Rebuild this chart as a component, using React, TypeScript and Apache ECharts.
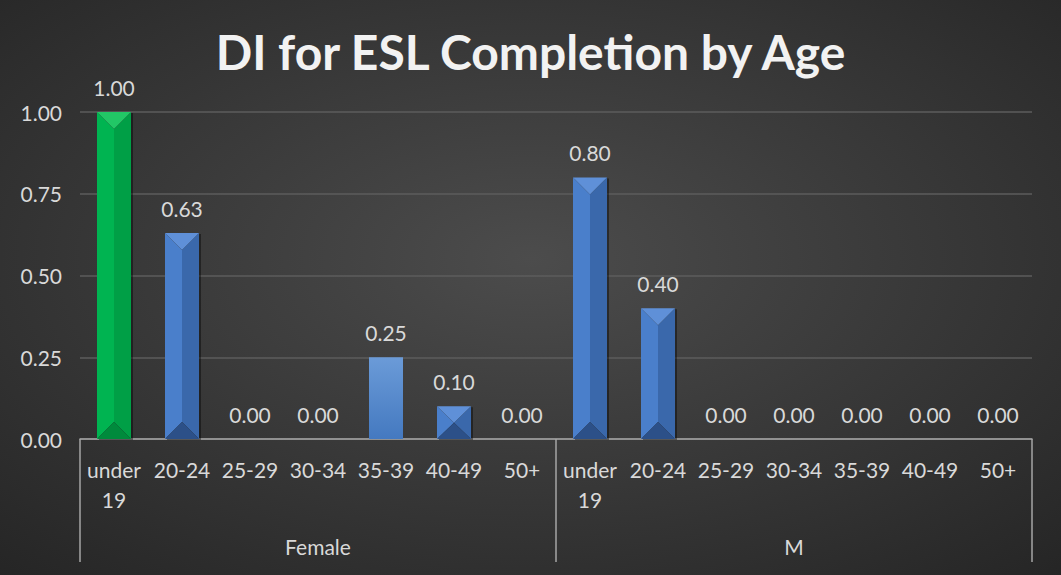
import React, { useEffect, useRef } from "react";
import * as echarts from "echarts";

const title = "DI for ESL Completion by Age";
const groups = ["Female", "M"];
const ageBands = ["under\n19", "20-24", "25-29", "30-34", "35-39", "40-49", "50+"];
const femaleValues = [1.0, 0.63, 0.0, 0.0, 0.25, 0.1, 0.0];
const maleValues = [0.8, 0.4, 0.0, 0.0, 0.0, 0.0, 0.0];
const yTicks = [0, 0.25, 0.5, 0.75, 1.0];

// visual style per bar (same order as categories)
const barKinds = [
  "green", "blue", "blue", "blue", "flat", "blue", "blue",
  "blue", "blue", "blue", "blue", "blue", "blue", "blue",
];

const palettes: Record<string, { top: string; left: string; right: string; bottom: string }> = {
  green: { top: "#22c766", left: "#00b451", right: "#009f46", bottom: "#008a3c" },
  blue: { top: "#5f90d8", left: "#4a7fcb", right: "#3a68ab", bottom: "#2c5088" },
};

export default function App() {
  const ref = useRef<HTMLDivElement>(null);
  useEffect(() => {
    if (!ref.current) return;
    const chart = echarts.init(ref.current, undefined, { renderer: "svg" });
    const categories = [...ageBands, ...ageBands];
    const values = [...femaleValues, ...maleValues];
    const customData = values.map((v, i) => [i, v]);
    const textColor = "#d9d9d9";
    const font = "Lato, 'Open Sans', sans-serif";

    chart.setOption({
      animation: false,
      backgroundColor: {
        type: "radial",
        x: 0.5,
        y: 0.45,
        r: 0.75,
        colorStops: [
          { offset: 0, color: "#4c4c4c" },
          { offset: 1, color: "#252525" },
        ],
      },
      title: {
        text: title,
        left: "center",
        top: 22,
        textStyle: { color: "#f2f2f2", fontSize: 48, fontWeight: "bold", fontFamily: font },
      },
      grid: { left: 80, right: 29, top: 112, bottom: 136, containLabel: false },
      xAxis: [
        {
          type: "category",
          data: categories,
          position: "bottom",
          axisLine: { show: true, lineStyle: { color: "#a6a6a6", width: 1.5 } },
          axisTick: { show: false },
          axisLabel: {
            interval: 0,
            color: textColor,
            fontSize: 21,
            fontFamily: font,
            margin: 15,
            lineHeight: 30,
          },
        },
        {
          type: "category",
          data: groups,
          position: "bottom",
          offset: 0,
          axisLine: { show: false },
          axisTick: { show: true, length: 123, interval: 0, lineStyle: { color: "#a6a6a6", width: 1.5 } },
          axisLabel: { color: textColor, fontSize: 21, fontFamily: font, margin: 97 },
        },
      ],
      yAxis: {
        type: "value",
        min: yTicks[0],
        max: yTicks[yTicks.length - 1],
        interval: 0.25,
        axisLine: { show: false },
        axisTick: { show: false },
        splitLine: { lineStyle: { color: "#5c5c5c", width: 1.5 } },
        axisLabel: {
          color: textColor,
          fontSize: 21,
          fontFamily: font,
          margin: 18,
          formatter: (v: number) => v.toFixed(2),
        },
      },
      series: [
        {
          type: "custom",
          xAxisIndex: 0,
          data: customData,
          encode: { x: 0, y: 1 },
          renderItem: (params: any, api: any) => {
            const idx = api.value(0) as number;
            const val = api.value(1) as number;
            if (!val) return { type: "group", children: [] };
            const top = api.coord([idx, val]);
            const base = api.coord([idx, 0]);
            const bw = api.size([1, 0])[0] * 0.5;
            const xc = top[0];
            const x0 = xc - bw / 2;
            const x1 = xc + bw / 2;
            const y0 = top[1];
            const y1 = base[1];
            const h = y1 - y0;
            const kind = barKinds[idx];
            if (kind === "flat") {
              return {
                type: "rect",
                shape: { x: x0, y: y0, width: bw, height: h },
                style: {
                  fill: {
                    type: "linear", x: 0, y: 0, x2: 0, y2: 1,
                    colorStops: [
                      { offset: 0, color: "#6b9bd8" },
                      { offset: 1, color: "#4479c0" },
                    ],
                  },
                },
              };
            }
            const p = palettes[kind];
            const b = Math.min(bw / 2, h / 2);
            const ya = y0 + b;
            const yb = y1 - b;
            return {
              type: "group",
              children: [
                {
                  type: "rect",
                  shape: { x: x0 + 2, y: y0 + 1, width: bw, height: h },
                  style: { fill: "rgba(0,0,0,0.4)" },
                },
                {
                  type: "polygon",
                  shape: { points: [[x0, y0], [xc, ya], [xc, yb], [x0, y1]] },
                  style: { fill: p.left },
                },
                {
                  type: "polygon",
                  shape: { points: [[x1, y0], [xc, ya], [xc, yb], [x1, y1]] },
                  style: { fill: p.right },
                },
                {
                  type: "polygon",
                  shape: { points: [[x0, y0], [x1, y0], [xc, ya]] },
                  style: { fill: p.top },
                },
                {
                  type: "polygon",
                  shape: { points: [[x0, y1], [x1, y1], [xc, yb]] },
                  style: { fill: p.bottom },
                },
              ],
            };
          },
          z: 3,
        },
        {
          type: "bar",
          xAxisIndex: 0,
          data: values,
          barWidth: "50%",
          itemStyle: { color: "rgba(0,0,0,0)" },
          label: {
            show: true,
            position: "top",
            distance: 14,
            color: textColor,
            fontSize: 21,
            fontFamily: font,
            formatter: (p: any) => (p.value as number).toFixed(2),
          },
          z: 4,
        },
      ],
    });
    return () => chart.dispose();
  }, []);
  return (
    <div
      ref={ref}
      style={{ position: "absolute", left: 0, top: 0, width: 1061, height: 575 }}
    />
  );
}
